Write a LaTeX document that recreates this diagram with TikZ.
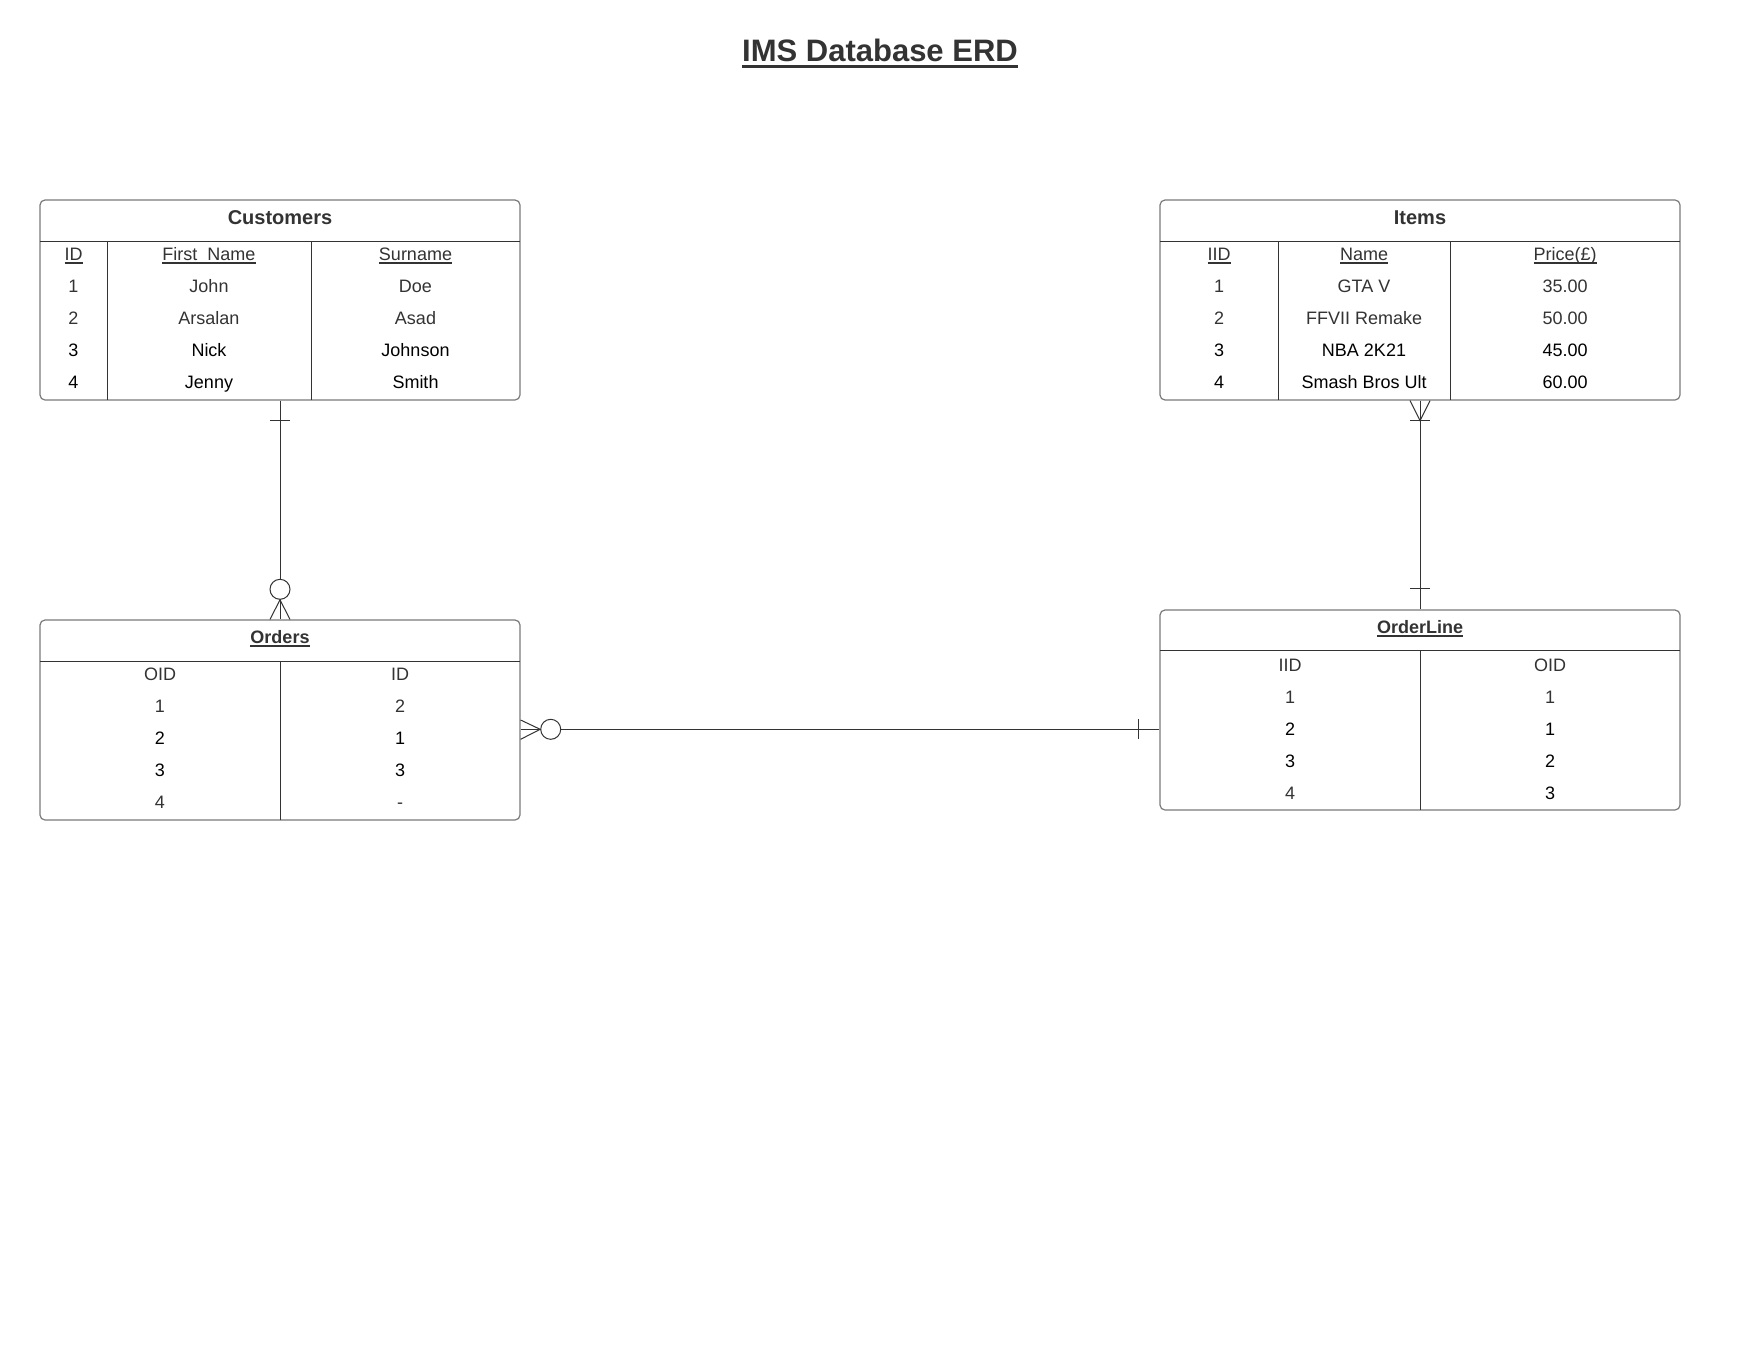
\documentclass[tikz,border=0pt]{standalone}
\usepackage{fontspec}
\setmainfont{Liberation Sans}
\usepackage{tikz}
\definecolor{txt}{HTML}{333333}
\definecolor{frame}{HTML}{7A7A7A}
\newcommand{\ulin}[3]{\setbox0\hbox{#3}\rlap{\rule[#1]{\wd0}{#2}}\box0}

\begin{document}
\begin{tikzpicture}[x=1pt,y=-1pt,
  entity/.style={draw=frame,line width=1.2pt,rounded corners=5pt,inner sep=0pt,minimum height=200pt},
  field/.style={anchor=base,inner sep=0pt,text=txt,font=\fontsize{18}{22}\selectfont},
  divline/.style={draw=txt,line width=1pt},
  link/.style={draw=txt,line width=1pt},
  blob/.style={circle,draw=txt,fill=white,line width=1pt,minimum size=20pt,inner sep=0pt}]
\useasboundingbox[fill=white] (0,0) rectangle (1760,1360);
\node[anchor=base,text=txt,font=\bfseries\fontsize{31}{36}\selectfont] (title) at (880,61.7) {\ulin{-6pt}{3pt}{IMS Database ERD}};

%customers
\node[entity,minimum width=480pt] (cust) at (280,300) {};
\draw[divline] (40,241) -- (520,241);
\draw[divline] (107,241) -- (107,400);
\draw[divline] (311,241) -- (311,400);
\node[field,font=\bfseries\fontsize{20}{24}\selectfont] (custT) at (280,224) {Customers};
\node[field] (cust-0-1) at (73.5,260.5) {\ulin{-3pt}{1.2pt}{ID}};
\node[field] (cust-0-2) at (209,260.5) {\ulin{-3pt}{1.2pt}{First\_Name}};
\node[field] (cust-0-3) at (415.5,260.5) {\ulin{-3pt}{1.2pt}{Surname}};
\foreach \r/\b/\c/\clr in {1/John/Doe/txt,2/Arsalan/Asad/txt,3/Nick/Johnson/black,4/Jenny/Smith/black}{
  \node[field,text=\clr] (cust-\r-1) at (73.5,260.5+32*\r) {\r};
  \node[field,text=\clr] (cust-\r-2) at (209,260.5+32*\r) {\b};
  \node[field,text=\clr] (cust-\r-3) at (415.5,260.5+32*\r) {\c};
}

%items
\node[entity,minimum width=520pt] (items) at (1420,300) {};
\draw[divline] (1160,241) -- (1680,241);
\draw[divline] (1278.5,241) -- (1278.5,400);
\draw[divline] (1450,241) -- (1450,400);
\node[field,font=\bfseries\fontsize{20}{24}\selectfont] (itemsT) at (1420,224) {Items};
\node[field] (items-0-1) at (1219,260.5) {\ulin{-3pt}{1.2pt}{IID}};
\node[field] (items-0-2) at (1364,260.5) {\ulin{-3pt}{1.2pt}{Name}};
\node[field] (items-0-3) at (1565,260.5) {\ulin{-3pt}{1.2pt}{Price(£)}};
\foreach \r/\b/\c/\clr in {1/GTA V/35.00/txt,2/FFVII Remake/50.00/txt,3/NBA 2K21/45.00/black,4/Smash Bros Ult/60.00/black}{
  \node[field,text=\clr] (items-\r-1) at (1219,260.5+32*\r) {\r};
  \node[field,text=\clr] (items-\r-2) at (1364,260.5+32*\r) {\b};
  \node[field,text=\clr] (items-\r-3) at (1565,260.5+32*\r) {\c};
}

%orders
\node[entity,minimum width=480pt] (orders) at (280,720) {};
\draw[divline] (40,661) -- (520,661);
\draw[divline] (280,661) -- (280,820);
\node[field,font=\bfseries\fontsize{18}{22}\selectfont] (ordersT) at (280,643.5) {\ulin{-3pt}{1.5pt}{Orders}};
\node[field] (orders-0-1) at (160,680.5) {OID};
\node[field] (orders-0-2) at (400,680.5) {ID};
\foreach \r/\b/\clra/\clrb in {1/2/txt/txt,2/1/black/black,3/3/black/black,4/-/txt/txt}{
  \node[field,text=\clra] (orders-\r-1) at (160,680.5+32*\r) {\r};
  \node[field,text=\clrb] (orders-\r-2) at (400,680.5+32*\r) {\b};
}

%orderline
\node[entity,minimum width=520pt] (oline) at (1420,710) {};
\draw[divline] (1160,650) -- (1680,650);
\draw[divline] (1420,650) -- (1420,810);
\node[field,font=\bfseries\fontsize{18}{22}\selectfont] (olineT) at (1420,633.5) {\ulin{-3pt}{1.5pt}{OrderLine}};
\node[field] (oline-0-1) at (1290,671.5) {IID};
\node[field] (oline-0-2) at (1550,671.5) {OID};
\foreach \r/\b/\clra/\clrb in {1/1/txt/txt,2/1/black/black,3/2/black/black,4/3/txt/black}{
  \node[field,text=\clra] (oline-\r-1) at (1290,671.5+32*\r) {\r};
  \node[field,text=\clrb] (oline-\r-2) at (1550,671.5+32*\r) {\b};
}

%customers - orders
\draw[link] (cust.south) -- (orders.north);
\draw[link] ([xshift=-10pt,yshift=-20pt]cust.south) -- ([xshift=10pt,yshift=-20pt]cust.south);
\node[blob] (custO) at (280,589.3) {};
\draw[link] ([xshift=-10pt]orders.north) -- (custO.south) -- ([xshift=10pt]orders.north);

%items - orderline
\draw[link] (items.south) -- (oline.north);
\draw[link] ([xshift=-10pt]items.south) -- ([yshift=-20pt]items.south) -- ([xshift=10pt]items.south);
\draw[link] ([xshift=-10pt,yshift=-20pt]items.south) -- ([xshift=10pt,yshift=-20pt]items.south);
\draw[link] ([xshift=-10pt,yshift=20.7pt]oline.north) -- ([xshift=10pt,yshift=20.7pt]oline.north);

%orders - orderline
\draw[link] ([yshift=-9.3pt]orders.east) -- ([yshift=-19.3pt]oline.west);
\node[blob] (ordersO) at (550.7,729.3) {};
\draw[link] (orders.east) -- (ordersO.west) -- ([yshift=-19.3pt]orders.east);
\draw[link] ([xshift=-20.7pt,yshift=-9.3pt]oline.west) -- ([xshift=-20.7pt,yshift=-29.3pt]oline.west);
\end{tikzpicture}
\end{document}
